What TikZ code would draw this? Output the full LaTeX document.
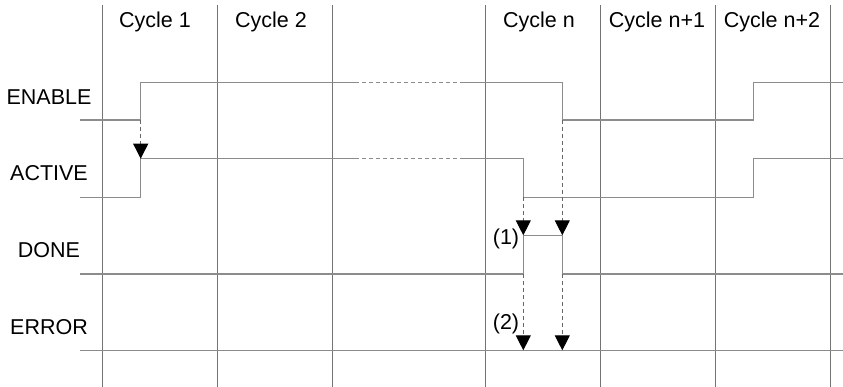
\documentclass[tikz,border=0pt]{standalone}
\usepackage{fontspec}
\setmainfont{Liberation Sans}
\usetikzlibrary{arrows.meta}

\begin{document}
\begin{tikzpicture}
    [x=1pt, y=-1pt,
    gridline/.style={draw=black!55, line width=0.9pt},
    signal/.style={draw=black!45, line width=1.2pt},
    gapline/.style={draw=black!45, line width=1pt, dash pattern=on 4pt off 3pt},
    trigger/.style={draw=black!60, line width=1pt, dash pattern=on 4pt off 3pt,
        -{Triangle[width=15pt,length=15pt,black]}},
    cyclelabel/.style={font=\fontsize{21.5}{25}\selectfont, anchor=base, inner sep=0pt},
    siglabel/.style={font=\fontsize{21.5}{25}\selectfont, anchor=base, inner sep=0pt}]

    \useasboundingbox (0,0) rectangle (843,387);

    % cycle columns
    \foreach \x in {102,217,332,485,600,715,830}
        \draw [gridline] (\x,5) -- (\x,387);

    \node [cyclelabel] (c1) at (155,27.5) {Cycle 1};
    \node [cyclelabel] (c2) at (271,27.5) {Cycle 2};
    \node [cyclelabel] (cn) at (539,27.5) {Cycle n};
    \node [cyclelabel] (cn1) at (657,27.5) {Cycle n+1};
    \node [cyclelabel] (cn2) at (772,27.5) {Cycle n+2};

    \node [siglabel] (enable) at (49,104.5) {ENABLE};
    \node [siglabel] (active) at (49,181) {ACTIVE};
    \node [siglabel] (done) at (49,257.7) {DONE};
    \node [siglabel] (error) at (49,334.3) {ERROR};

    % edges the arrows start from / point to
    \coordinate (en rise) at (140.7,120);
    \coordinate (ac rise) at (140.7,158.7);
    \coordinate (en fall) at (562.3,120);
    \coordinate (ac fall) at (523.3,197.3);
    \coordinate (dn rise) at (523.3,235.3);
    \coordinate (dn fall) at (562.3,235.3);
    \coordinate (dn low a) at (523.3,274);
    \coordinate (dn low b) at (562.3,274);
    \coordinate (er a) at (523.3,350.3);
    \coordinate (er b) at (562.3,350.3);

    % ENABLE
    \draw [signal] (80,120) -- (en rise) -- (140.7,82.3) -- (355,82.3);
    \draw [gapline] (355,82.3) -- (463,82.3);
    \draw [signal] (463,82.3) -- (562.3,82.3) -- (en fall) -- (753.3,120) -- (753.3,82.3) -- (843,82.3);

    % ACTIVE
    \draw [signal] (80,197.3) -- (140.7,197.3) -- (ac rise) -- (355,158.7);
    \draw [gapline] (355,158.7) -- (463,158.7);
    \draw [signal] (463,158.7) -- (523.3,158.7) -- (ac fall) -- (753.3,197.3) -- (753.3,158.7) -- (843,158.7);

    % DONE
    \draw [signal] (80,274) -- (dn low a) -- (dn rise) -- (dn fall) -- (dn low b) -- (843,274);

    % ERROR
    \draw [signal] (80,350.3) -- (843,350.3);

    \draw [trigger] (en rise) -- (ac rise);
    \draw [trigger] (ac fall) -- (dn rise);
    \draw [trigger] (en fall) -- (dn fall);
    \draw [trigger] (dn low a) -- (er a);
    \draw [trigger] (dn low b) -- (er b);

    \node [siglabel] (mark1) at (506,244.3) {(1)};
    \node [siglabel] (mark2) at (506,329) {(2)};
\end{tikzpicture}
\end{document}
